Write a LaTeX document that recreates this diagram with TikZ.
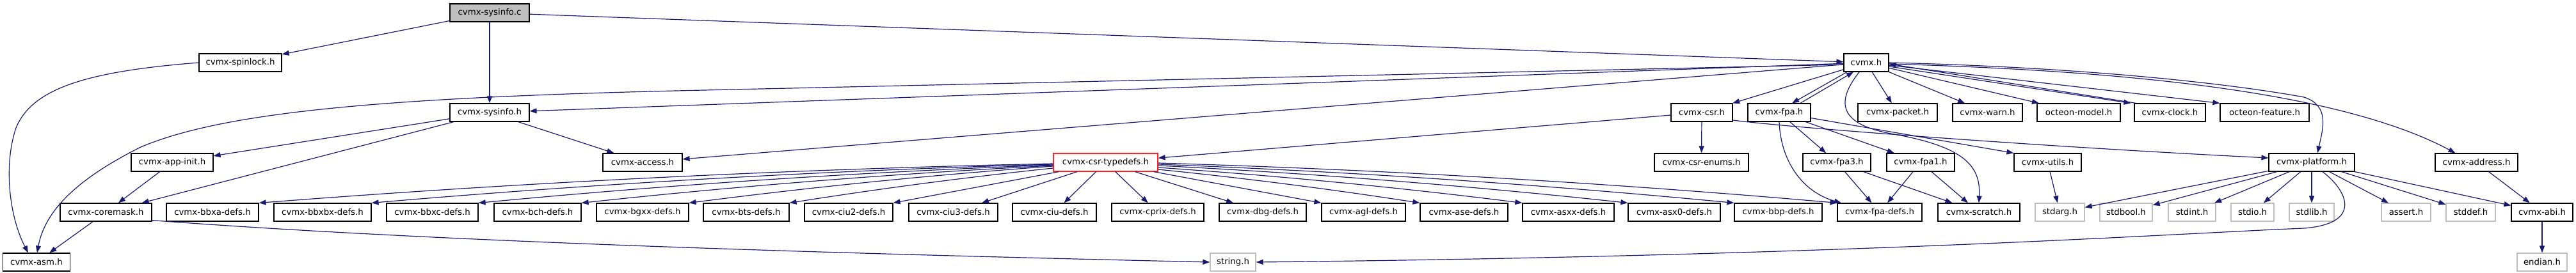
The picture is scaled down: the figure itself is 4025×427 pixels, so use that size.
\documentclass[tikz,border=0pt]{standalone}
\usepackage{fontspec}
\newfontfamily\dvs{DejaVu Sans}
\usetikzlibrary{arrows.meta}
\definecolor{edgecol}{HTML}{191970}
\definecolor{sysgray}{HTML}{BFBFBF}
\definecolor{trunc}{HTML}{FF2020}
\newcommand\nodefont{\dvs\fontsize{13.3}{15}\selectfont}
\tikzset{
  box/.style={draw=black, line width=1.2pt, minimum height=28pt, inner sep=0pt, font=\nodefont, text=black},
  sysbox/.style={box, draw=sysgray},
  rootbox/.style={box, fill=sysgray},
  truncbox/.style={box, draw=trunc},
  e/.style={draw=edgecol, line width=1.2pt, -{Triangle[length=11pt,width=8pt]}},
}
\begin{document}
\begin{tikzpicture}[x=1pt,y=-1pt]
\useasboundingbox (0,0) rectangle (4025,427);
% row 1
\node[rootbox, minimum width=124pt] (sc) at (765,20) {cvmx-sysinfo.c};
% row 2
\node[box, minimum width=129pt] (spin) at (375.5,98) {cvmx-spinlock.h};
\node[box, minimum width=70pt] (cvmx) at (2916,98) {cvmx.h};
% row 3
\node[box, minimum width=124pt] (sih) at (765,176) {cvmx-sysinfo.h};
\node[box, minimum width=96pt] (csr) at (2659,176) {cvmx-csr.h};
\node[box, minimum width=98pt] (fpa) at (2780,176) {cvmx-fpa.h};
\node[box, minimum width=124pt] (packet) at (2965,176) {cvmx-packet.h};
\node[box, minimum width=109pt] (warn) at (3105.5,176) {cvmx-warn.h};
\node[box, minimum width=130pt] (omodel) at (3248,176) {octeon-model.h};
\node[box, minimum width=111pt] (clock) at (3390.5,176) {cvmx-clock.h};
\node[box, minimum width=139pt] (ofeat) at (3538.5,176) {octeon-feature.h};
% row 4
\node[box, minimum width=128pt] (appinit) at (269,254) {cvmx-app-init.h};
\node[box, minimum width=124pt] (access) at (1004,254) {cvmx-access.h};
\node[truncbox, minimum width=163pt] (tdefs) at (1727.5,254) {cvmx-csr-typedefs.h};
\node[box, minimum width=147pt] (enums) at (2658.5,254) {cvmx-csr-enums.h};
\node[box, minimum width=106pt] (fpa3) at (2870,254) {cvmx-fpa3.h};
\node[box, minimum width=106pt] (fpa1) at (3001,254) {cvmx-fpa1.h};
\node[box, minimum width=105pt] (utils) at (3199.5,254) {cvmx-utils.h};
\node[box, minimum width=134pt] (platform) at (3612,254) {cvmx-platform.h};
\node[box, minimum width=129pt] (address) at (3869.5,254) {cvmx-address.h};
% row 5
\node[box, minimum width=143pt] (coremask) at (165.5,332) {cvmx-coremask.h};
\node[box, minimum width=144pt] (bbxa) at (332,332) {cvmx-bbxa-defs.h};
\node[box, minimum width=152pt] (bbxbx) at (504,332) {cvmx-bbxbx-defs.h};
\node[box, minimum width=143pt] (bbxc) at (675.5,332) {cvmx-bbxc-defs.h};
\node[box, minimum width=136pt] (bch) at (840,332) {cvmx-bch-defs.h};
\node[box, minimum width=144pt] (bgxx) at (1004,332) {cvmx-bgxx-defs.h};
\node[box, minimum width=134pt] (bts) at (1166,332) {cvmx-bts-defs.h};
\node[box, minimum width=138pt] (ciu2) at (1326,332) {cvmx-ciu2-defs.h};
\node[box, minimum width=139pt] (ciu3) at (1489.5,332) {cvmx-ciu3-defs.h};
\node[box, minimum width=131pt] (ciu) at (1647.5,332) {cvmx-ciu-defs.h};
\node[box, minimum width=144pt] (cprix) at (1809,332) {cvmx-cprix-defs.h};
\node[box, minimum width=136pt] (dbg) at (1973,332) {cvmx-dbg-defs.h};
\node[box, minimum width=131pt] (agl) at (2130.5,332) {cvmx-agl-defs.h};
\node[box, minimum width=137pt] (ase) at (2287.5,332) {cvmx-ase-defs.h};
\node[box, minimum width=143pt] (asxx) at (2450.5,332) {cvmx-asxx-defs.h};
\node[box, minimum width=144pt] (asx0) at (2616,332) {cvmx-asx0-defs.h};
\node[box, minimum width=137pt] (bbp) at (2778.5,332) {cvmx-bbp-defs.h};
\node[box, minimum width=132pt] (fpadefs) at (2937,332) {cvmx-fpa-defs.h};
\node[box, minimum width=128pt] (scratch) at (3092,332) {cvmx-scratch.h};
\node[sysbox, minimum width=77pt] (stdarg) at (3218.5,332) {stdarg.h};
\node[sysbox, minimum width=82pt] (stdbool) at (3322,332) {stdbool.h};
\node[sysbox, minimum width=74pt] (stdint) at (3425,332) {stdint.h};
\node[sysbox, minimum width=67pt] (stdio) at (3519.5,332) {stdio.h};
\node[sysbox, minimum width=70pt] (stdlib) at (3612,332) {stdlib.h};
\node[sysbox, minimum width=77pt] (assert) at (3759.5,332) {assert.h};
\node[sysbox, minimum width=77pt] (stddef) at (3860.5,332) {stddef.h};
\node[box, minimum width=96pt] (abi) at (3972,332) {cvmx-abi.h};
% row 6
\node[box, minimum width=105pt] (asm) at (57,410) {cvmx-asm.h};
\node[sysbox, minimum width=71pt] (string) at (1926.5,410) {string.h};
\node[sysbox, minimum width=78pt] (endian) at (3972,410) {endian.h};

% edges
\draw[e] (sc) -- (spin);
\draw[e] (sc) -- (sih);
\draw[e] (sc) -- (cvmx);
\draw[e] (spin.west) .. controls (130,112) and (50,140) .. (25,200) .. controls (5,260) and (15,340) .. ([xshift=-13pt]asm.north);
\draw[e] ([yshift=-3pt]cvmx.west) -- (1100,141) .. controls (600,152) and (350,175) .. (220,230) .. controls (120,280) and (70,330) .. ([xshift=1pt]asm.north);
\draw[e] (cvmx) -- (sih);
\draw[e] (cvmx) -- (access);
\draw[e] (sih) -- (appinit);
\draw[e] (sih) -- (coremask);
\draw[e] (sih) -- (access);
\draw[e] (appinit) -- (coremask);
\draw[e] (coremask) -- (asm);
\draw[e] ([yshift=2pt]coremask.south east) .. controls (600,372) and (1100,392) .. (string.west);
\draw[e] ([xshift=17pt]platform.south) .. controls (3670,300) and (3690,350) .. (3600,357) .. controls (3400,365) and (2900,400) .. (string.east);
\draw[e] (cvmx) -- (csr);
\draw[e] ([xshift=-30pt]cvmx.south) -- ([xshift=20pt]fpa.north);
\draw[e] ([xshift=33pt]fpa.north) -- ([xshift=-20pt]cvmx.south);
\draw[e] (cvmx) -- (packet);
\draw[e] (cvmx) -- (warn);
\draw[e] (cvmx) -- (omodel);
\draw[e] ([yshift=-6pt]cvmx.east) -- ([xshift=-5pt]clock.north west);
\draw[e] ([xshift=3pt]clock.north west) -- ([yshift=-2pt]cvmx.east);
\draw[e] (cvmx) -- (ofeat.north west);
\draw[e] (cvmx.east) .. controls (3250,105) and (3480,130) .. (3600,152) .. controls (3640,165) and (3630,200) .. ([xshift=9pt]platform.north);
\draw[e] ([yshift=-2pt]cvmx.east) .. controls (3300,110) and (3650,140) .. ([xshift=-33pt]address.north);
\draw[e] ([xshift=-11pt]cvmx.south) .. controls (2868,160) and (2872,195) .. (2960,210) .. controls (3070,230) and (3095,260) .. (scratch.north);
\draw[e] (csr) -- (tdefs);
\draw[e] (csr) -- (enums);
\draw[e] ([yshift=-12pt]csr.east) .. controls (2800,200) and (3200,230) .. ([yshift=7pt]platform.west);
\draw[e] (fpa.south) .. controls (2782,250) and (2815,300) .. ([xshift=-60pt]fpadefs.north);
\draw[e] (fpa) -- (fpa3);
\draw[e] (fpa) -- (fpa1);
\draw[e] (fpa) -- (utils.north west);
\draw[e] (fpa3) -- (fpadefs);
\draw[e] (fpa3) -- (scratch);
\draw[e] (fpa1) -- (fpadefs);
\draw[e] (fpa1) -- (scratch);
\draw[e] (utils) -- (stdarg);
\draw[e] (platform) -- (stdarg);
\draw[e] (platform) -- (stdbool);
\draw[e] (platform) -- (stdint);
\draw[e] (platform) -- (stdio);
\draw[e] (platform) -- (stdlib);
\draw[e] (platform) -- (assert);
\draw[e] (platform) -- (stddef);
\draw[e] (platform) -- (abi);
\draw[e] (address) -- (abi);
\draw[e] (abi) -- (endian);
% csr-typedefs fan (left)
\draw[e] ([yshift=-2pt]tdefs.west) .. controls (1232,264.7) and (818,285.3) .. (bbxa.north east);
\draw[e] ([yshift=-3pt]tdefs.west) .. controls (1290.7,266.6) and (935.3,287) .. (bbxbx.north east);
\draw[e] ([yshift=-4pt]tdefs.west) .. controls (1346.3,269) and (1046.7,289) .. (bbxc.north east);
\draw[e] ([yshift=-5pt]tdefs.west) .. controls (1400,271.3) and (1154,291) .. (bch.north east);
\draw[e] ([yshift=-6pt]tdefs.west) .. controls (1456,273.6) and (1266,293) .. (bgxx.north east);
\draw[e] ([yshift=-9pt]tdefs.west) .. controls (1508.3,277.3) and (1370.7,295.7) .. (bts.north east);
\draw[e] ([xshift=9pt]tdefs.south west) -- (ciu2.north east);
\draw[e] (tdefs) -- (ciu3);
\draw[e] (tdefs) -- (ciu);
\draw[e] (tdefs) -- (cprix);
\draw[e] (tdefs) -- (dbg);
% csr-typedefs fan (right)
\draw[e] ([xshift=-7pt]tdefs.south east) -- (agl.north west);
\draw[e] ([yshift=-11pt]tdefs.east) .. controls (1945.7,278.7) and (2082.3,296.3) .. (ase.north west);
\draw[e] ([yshift=-8pt]tdefs.east) .. controls (1999,275) and (2189,293.6) .. (asxx.north west);
\draw[e] ([yshift=-5pt]tdefs.east) .. controls (2054,271.3) and (2299,291) .. (asx0.north west);
\draw[e] ([yshift=-3pt]tdefs.east) .. controls (2109.3,268.3) and (2409.7,288.7) .. (bbp.north west);
\draw[e] ([yshift=-1pt]tdefs.east) .. controls (2163,265.4) and (2517,286.4) .. (fpadefs.north west);
\end{tikzpicture}
\end{document}
